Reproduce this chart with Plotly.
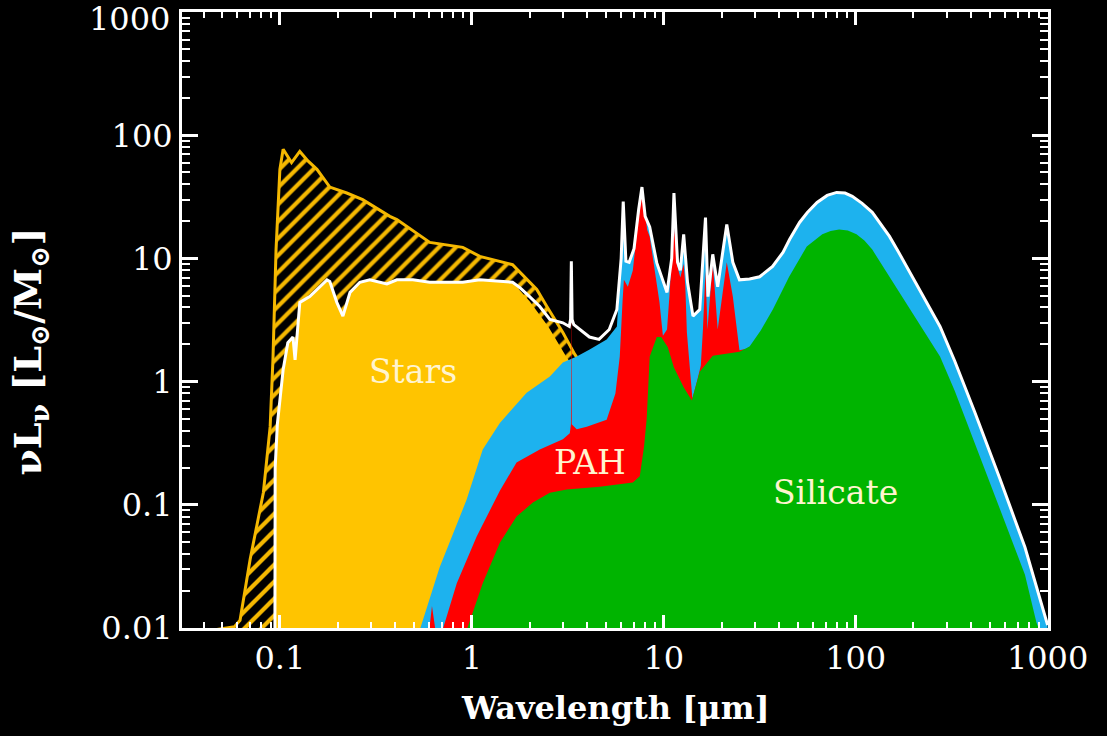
import math
import plotly.graph_objects as go

# ---------------- data (wavelength in micron, nuL_nu in Lsun/Msun) ----------------
# intrinsic (unattenuated) stellar emission - hatched
intr_x = [0.040, 0.050, 0.058, 0.062, 0.070, 0.082, 0.089, 0.092, 0.0955, 0.100, 0.104, 0.115, 0.127,
          0.140, 0.156, 0.182, 0.223, 0.270, 0.374, 0.407, 0.517, 0.604, 0.897, 1.10, 1.63, 1.78,
          2.18, 2.46, 2.98, 3.44, 4.5, 6.0]
intr_y = [0.0093, 0.0098, 0.0102, 0.0115, 0.036, 0.125, 0.43, 1.5, 11.8, 53, 77, 60, 74,
          62, 53, 38, 34, 30, 22, 20.7, 16, 13.5, 12.3, 10.4, 8.9, 7.7,
          5.6, 4.07, 2.5, 1.66, 0.9, 0.4]

# attenuated stellar emission - solid yellow
star_x = [0.094, 0.0945, 0.097, 0.100, 0.104, 0.110, 0.117, 0.120, 0.123, 0.127, 0.143, 0.162, 0.176,
          0.182, 0.198, 0.213, 0.232, 0.261, 0.294, 0.361, 0.407, 0.493, 0.604, 0.897, 1.10, 1.63,
          2.0, 2.5, 3.1, 4.0, 5.0]
star_y = [0.001, 0.2, 0.45, 0.7, 1.25, 2.07, 2.3, 1.5, 2.6, 4.4, 4.9, 5.9, 6.7,
          6.5, 4.4, 3.4, 5.3, 6.4, 6.7, 6.2, 6.7, 6.7, 6.4, 6.4, 6.7, 6.4,
          4.5, 2.8, 1.6, 0.9, 0.4]

# total dust emission (blue)
dust_x = [0.50, 0.54, 0.68, 0.94, 1.14, 1.40, 1.93, 2.55, 2.98, 3.52, 4.11, 5.04, 5.7,
          6.0, 6.15, 6.35, 6.6, 7.0, 7.4, 7.7, 8.0, 8.45, 9.2, 10.4, 11.0, 11.3, 11.8, 12.2, 12.7,
          13.3, 14.2, 15.4, 16.5, 17.0, 18.0, 19.1, 21.3, 22.9, 24.8, 28.0, 31.6, 36.9, 41.8, 45.3,
          51, 56, 62.9, 71, 79.6, 88, 96, 108, 122, 135, 150, 166, 184, 203, 224, 248, 275, 328,
          417, 563, 762, 1000]
dust_y = [0.005, 0.01, 0.031, 0.11, 0.28, 0.46, 0.81, 1.1, 1.43, 1.6, 1.82, 2.2, 2.8,
          10, 29, 9.5, 9.3, 12, 25, 38, 22, 18, 9.2, 5.3, 10, 34, 9.3, 8, 15.7,
          6.4, 3.4, 3.85, 21.5, 4.9, 10.8, 5.9, 18.9, 9.3, 6.7, 6.8, 7.1, 8.6, 11.2, 14.3,
          19.6, 23.6, 28.5, 32.5, 34.4, 34.0, 32, 28, 23.7, 19.0, 15.1, 11.5, 8.6, 6.5, 4.9, 3.7, 2.8, 1.47,
          0.565, 0.164, 0.045, 0.0105]

# PAH + silicate (red)
pah_x = [0.58, 0.62, 0.65, 0.69, 0.71, 0.835, 1.06, 1.40, 1.71, 2.26, 2.98, 3.24, 3.285, 3.30, 3.315,
         3.52, 3.97, 5.04, 5.6, 5.9, 6.1, 6.2, 6.5, 6.9, 7.3, 7.65, 7.9, 8.2, 8.45, 9.0, 9.5, 9.9,
         10.4, 10.7, 11.3, 11.7, 12.2, 12.7, 12.95, 13.2, 14.1, 15.0, 15.6, 16.0, 16.5, 16.9, 18.0,
         19.1, 21.3, 22.9, 24.8, 27, 28]
pah_y = [0.006, 0.015, 0.009, 0.008, 0.01, 0.023, 0.055, 0.13, 0.22, 0.28, 0.34, 0.38, 0.45, 9, 0.45,
         0.41, 0.43, 0.49, 0.8, 1.6, 4.5, 6.7, 5.9, 8, 18, 32, 27, 17, 15, 8.1, 4.4, 2.35,
         2.65, 4.9, 20, 9, 7, 9, 6, 2.5, 0.73, 1.05, 1.35, 2.65, 8, 2.65, 9.3,
         2.65, 9.3, 4.9, 1.8, 1.85, 1.93]

# silicate (green)
sil_x = [0.90, 0.95, 1.14, 1.40, 1.71, 2.08, 2.55, 3.12, 4.64, 6.9, 7.5, 7.9, 8.15, 8.45, 9.2, 9.7,
         10.5, 11.3, 12.7, 14.0, 15.4, 18.0, 24.8, 28, 32, 37, 45, 55.6, 67, 74, 82, 91, 101, 111,
         122, 150, 184, 224, 275, 328, 417, 563, 762, 875, 1000]
sil_y = [0.006, 0.01, 0.023, 0.049, 0.080, 0.104, 0.125, 0.133, 0.14, 0.151, 0.17, 0.3, 0.5, 1.6, 2.3, 2.3,
         1.9, 1.3, 0.9, 0.7, 1.2, 1.62, 1.75, 1.93, 2.6, 3.85, 7.1, 12.5, 15.7, 16.7, 17.2, 16.9, 15.7, 14.0,
         11.8, 7.1, 4.4, 2.65, 1.6, 0.84, 0.32, 0.093, 0.027, 0.011, 0.0065]

# total SED (white line)
tot_x = [0.094, 0.0945, 0.097, 0.100, 0.104, 0.110, 0.117, 0.120, 0.123, 0.127, 0.143, 0.162, 0.176,
         0.182, 0.198, 0.213, 0.232, 0.261, 0.294, 0.361, 0.407, 0.493, 0.604, 0.897, 1.10, 1.63,
         1.78, 2.0, 2.26, 2.55, 2.98, 3.22, 3.27, 3.30, 3.33, 3.40, 3.5, 4.1, 4.6, 5.2, 5.7,
         6.0, 6.15, 6.35, 6.6, 7.0, 7.4, 7.7, 8.0, 8.45, 9.2, 10.4, 11.0, 11.3, 11.8, 12.2, 12.7,
         13.3, 14.2, 15.4, 16.5, 17.0, 18.0, 19.1, 21.3, 22.9, 24.8, 28.0, 31.6, 36.9, 41.8, 45.3,
         51, 56, 62.9, 71, 79.6, 88, 96, 108, 122, 135, 150, 166, 184, 203, 224, 248, 275, 328,
         417, 563, 762, 1000]
tot_y = [0.001, 0.2, 0.45, 0.7, 1.25, 2.07, 2.3, 1.5, 2.6, 4.4, 4.9, 5.9, 6.7,
         6.5, 4.4, 3.4, 5.3, 6.4, 6.7, 6.2, 6.7, 6.7, 6.4, 6.4, 6.7, 6.4,
         5.8, 4.9, 4.07, 3.2, 3.0, 2.8, 3.2, 9.5, 3.2, 2.9, 2.8, 2.3, 2.2, 2.65, 3.85,
         10, 29, 9.5, 9.3, 12, 25, 38, 22, 18, 9.2, 5.3, 10, 34, 9.3, 8, 15.7,
         6.4, 3.4, 3.85, 21.5, 4.9, 10.8, 5.9, 18.9, 9.3, 6.7, 6.8, 7.1, 8.6, 11.2, 14.3,
         19.6, 23.6, 28.5, 32.5, 34.4, 34.0, 32, 28, 23.7, 19.0, 15.1, 11.5, 8.6, 6.5, 4.9, 3.7, 2.8, 1.47,
         0.565, 0.164, 0.045, 0.0105]

# axes ticks
x_tickvals = [0.1, 1, 10, 100, 1000]
x_ticktext = ["0.1", "1", "10", "100", "1000"]
y_tickvals = [0.01, 0.1, 1, 10, 100, 1000]
y_ticktext = ["0.01", "0.1", "1", "10", "100", ""]   # top label drawn separately below
y_top_label = "1000"
x_decades = [0.01, 0.1, 1, 10, 100]
y_decades = [0.01, 0.1, 1, 10, 100]
minor_mults = [2, 3, 4, 5, 6, 7, 8, 9]

labels_text = ["Stars", "PAH", "Silicate"]
labels_x = [0.493, 4.12, 78.7]
labels_y = [1.2, 0.22, 0.126]

Y_FLOOR = 1e-4  # closing level for filled areas (below the visible range)

# ---------------- colours / fonts ----------------
C_YEL = "#FFC400"
C_YEL_LINE = "#F5B800"
C_BLUE = "#1DB2EE"
C_RED = "#FF0000"
C_GREEN = "#00B400"
C_LABEL = "#FFF4CF"
FONT = "DejaVu Serif"


def closed(xs, ys):
    return xs + [xs[-1], xs[0]], ys + [Y_FLOOR, Y_FLOOR]


fig = go.Figure()

# intrinsic stars: hatched
hx, hy = closed(intr_x, intr_y)
fig.add_trace(go.Scatter(x=hx, y=hy, mode="lines", fill="toself", line=dict(width=0),
                         fillcolor="rgba(0,0,0,0)",
                         fillpattern=dict(shape="/", fgcolor=C_YEL_LINE, bgcolor="black",
                                          size=12, solidity=0.35, fgopacity=1),
                         hoverinfo="skip", showlegend=False))
fig.add_trace(go.Scatter(x=intr_x, y=intr_y, mode="lines", line=dict(color=C_YEL_LINE, width=3),
                         hoverinfo="skip", showlegend=False))

# attenuated stars
sx, sy = closed(star_x, star_y)
fig.add_trace(go.Scatter(x=sx, y=sy, mode="lines", fill="toself", fillcolor=C_YEL,
                         line=dict(width=0), hoverinfo="skip", showlegend=False))
# dust total
dx, dy = closed(dust_x, dust_y)
fig.add_trace(go.Scatter(x=dx, y=dy, mode="lines", fill="toself", fillcolor=C_BLUE,
                         line=dict(width=0), hoverinfo="skip", showlegend=False))
# PAH
px_, py_ = closed(pah_x, pah_y)
fig.add_trace(go.Scatter(x=px_, y=py_, mode="lines", fill="toself", fillcolor=C_RED,
                         line=dict(width=0), hoverinfo="skip", showlegend=False))
# silicate
gx, gy = closed(sil_x, sil_y)
fig.add_trace(go.Scatter(x=gx, y=gy, mode="lines", fill="toself", fillcolor=C_GREEN,
                         line=dict(width=0), hoverinfo="skip", showlegend=False))
# total
fig.add_trace(go.Scatter(x=tot_x, y=tot_y, mode="lines", line=dict(color="white", width=3),
                         hoverinfo="skip", showlegend=False))

# component labels (annotation positions on log axes are given in log10 units)
for t, lx, ly in zip(labels_text, labels_x, labels_y):
    fig.add_annotation(x=math.log10(lx), y=math.log10(ly), xref="x", yref="y", text=t,
                       showarrow=False, font=dict(family=FONT, size=33, color=C_LABEL),
                       xanchor="center", yanchor="middle")

x_minor = [d * m for d in x_decades for m in minor_mults]
y_minor = [d * m for d in y_decades for m in minor_mults]

axis_common = dict(type="log", showgrid=False, zeroline=False, showline=True, linecolor="white",
                   linewidth=3, mirror="ticks", ticks="inside", tickcolor="white", tickwidth=3,
                   ticklabeloverflow="allow", automargin=False,
                   tickfont=dict(family=FONT, size=32, color="white"))

fig.update_xaxes(range=[-1.51, 3.002], tickvals=x_tickvals, ticktext=x_ticktext, ticklen=13,
                 minor=dict(tickvals=x_minor, ticks="inside", ticklen=6, tickwidth=2, tickcolor="white"),
                 **axis_common)
fig.update_yaxes(range=[-2.002, 3.002], tickvals=y_tickvals, ticktext=y_ticktext, ticklen=16,
                 minor=dict(tickvals=y_minor, ticks="inside", ticklen=8, tickwidth=2, tickcolor="white"),
                 **axis_common)

# top y tick label, nudged just inside the page
fig.add_annotation(x=-0.012, y=math.log10(y_tickvals[-1]), xref="paper", yref="y", text=y_top_label,
                   showarrow=False, font=dict(family=FONT, size=32, color="white"),
                   xanchor="right", yanchor="middle", yshift=-7)

fig.add_annotation(x=0.5, y=-0.13, xref="paper", yref="paper", text="<b>Wavelength [μm]</b>",
                   showarrow=False, font=dict(family=FONT, size=32, color="white"),
                   xanchor="center", yanchor="middle")
fig.add_annotation(x=-0.176, y=0.448, xref="paper", yref="paper",
                   text="<b>νL<sub>ν</sub> [L<sub>⊙</sub>/M<sub>⊙</sub>]</b>", textangle=-90,
                   showarrow=False, font=dict(family=FONT, size=38, color="white"),
                   xanchor="center", yanchor="middle")

fig.update_layout(width=1107, height=736, paper_bgcolor="black", plot_bgcolor="black",
                  margin=dict(l=182, r=59, t=12, b=108, autoexpand=False), showlegend=False)

fig.write_html("out.html")
